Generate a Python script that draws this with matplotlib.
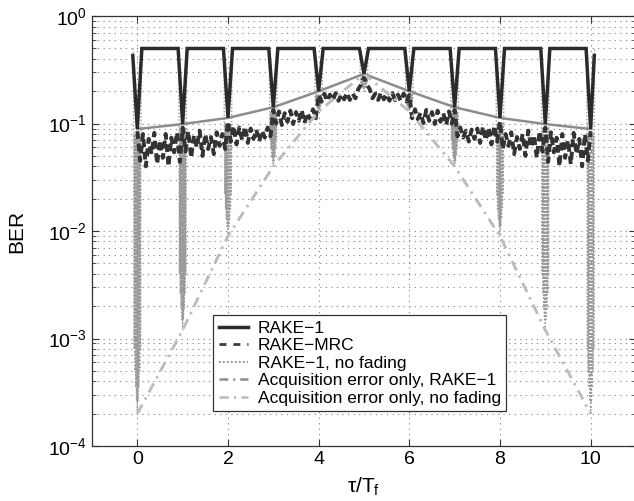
import numpy as np
import matplotlib
matplotlib.use('Agg')
import matplotlib.pyplot as plt
from matplotlib.lines import Line2D
from matplotlib.ticker import LogLocator, NullFormatter

plt.rcParams['font.family'] = ['Liberation Sans', 'DejaVu Sans']
plt.rcParams['mathtext.fontset'] = 'custom'
plt.rcParams['mathtext.rm'] = 'Liberation Sans'
plt.rcParams['mathtext.it'] = 'Liberation Sans:italic'

# Timing offsets in frames (tau/Tf)
offsets = np.arange(0, 11)

# Acquisition error only, at each frame offset
acq_rake1 = [0.089, 0.099, 0.113, 0.142, 0.200, 0.290, 0.200, 0.142, 0.113, 0.099, 0.089]
acq_nofade = [2.0e-4, 1.2e-3, 9.0e-3, 0.040, 0.130, 0.290, 0.130, 0.040, 9.0e-3, 1.2e-3, 2.0e-4]

# RAKE-1 BER: 0.5 when misaligned, dips to the acquisition error at each frame
rake1_tau = [-0.1, 0, 0.1, 0.9, 1, 1.1, 1.9, 2, 2.1, 2.9, 3, 3.1, 3.9, 4, 4.1,
             4.9, 5, 5.1, 5.9, 6, 6.1, 6.9, 7, 7.1, 7.9, 8, 8.1, 8.9, 9, 9.1,
             9.9, 10, 10.08]
rake1_ber = [0.43, 0.089, 0.5, 0.5, 0.099, 0.5, 0.5, 0.113, 0.5, 0.5, 0.142, 0.5,
             0.5, 0.200, 0.5, 0.5, 0.290, 0.5, 0.5, 0.200, 0.5, 0.5, 0.142, 0.5,
             0.5, 0.113, 0.5, 0.5, 0.099, 0.5, 0.5, 0.089, 0.43]

# RAKE-MRC BER, sampled every 1/16 frame from 0 to 10
mrc_ber = [
    0.085, 0.045, 0.080, 0.040, 0.072, 0.052, 0.082, 0.042, 0.070, 0.048, 0.080, 0.040, 0.074, 0.054, 0.083, 0.044,
    0.092, 0.055, 0.085, 0.048, 0.078, 0.060, 0.086, 0.050, 0.080, 0.058, 0.075, 0.052, 0.083, 0.062, 0.080, 0.058,
    0.105, 0.068, 0.095, 0.064, 0.092, 0.070, 0.094, 0.066, 0.090, 0.072, 0.088, 0.068, 0.086, 0.074, 0.092, 0.076,
    0.135, 0.100, 0.130, 0.097, 0.125, 0.104, 0.132, 0.099, 0.128, 0.106, 0.134, 0.101, 0.126, 0.110, 0.136, 0.112,
    0.185, 0.160, 0.190, 0.162, 0.186, 0.165, 0.192, 0.163, 0.188, 0.168, 0.194, 0.166, 0.190, 0.172, 0.210, 0.230,
    0.270, 0.230, 0.210, 0.172, 0.190, 0.166, 0.194, 0.168, 0.188, 0.163, 0.192, 0.165, 0.186, 0.162, 0.190, 0.160,
    0.185, 0.112, 0.136, 0.110, 0.126, 0.101, 0.134, 0.106, 0.128, 0.099, 0.132, 0.104, 0.125, 0.097, 0.130, 0.100,
    0.135, 0.076, 0.092, 0.074, 0.086, 0.068, 0.088, 0.072, 0.090, 0.066, 0.094, 0.070, 0.092, 0.064, 0.095, 0.068,
    0.105, 0.058, 0.080, 0.062, 0.083, 0.052, 0.075, 0.058, 0.080, 0.050, 0.086, 0.060, 0.078, 0.048, 0.085, 0.055,
    0.092, 0.044, 0.083, 0.054, 0.074, 0.040, 0.080, 0.048, 0.070, 0.042, 0.082, 0.052, 0.072, 0.040, 0.080, 0.045,
    0.085,
]
mrc_tau = np.linspace(0, 10, len(mrc_ber))

# RAKE-1 without fading: 0.5 between frames; near each frame it swings
# between an upper value and a falling set of lows
nofade_plateau = 0.5
nofade_tops = [0.080, 0.090, 0.100, 0.125, 0.185, 0.270, 0.185, 0.125, 0.100, 0.090, 0.080]
nofade_lows = [
    [8e-4, 5e-4, 3.5e-4, 2.6e-4, 2e-4, 2.6e-4, 3.5e-4, 5e-4, 8e-4],
    [4e-3, 2.6e-3, 1.9e-3, 1.5e-3, 1.2e-3, 1.5e-3, 1.9e-3, 2.6e-3, 4e-3],
    [0.022, 0.016, 0.013, 0.011, 9e-3, 0.011, 0.013, 0.016, 0.022],
    [0.07, 0.058, 0.05, 0.045, 0.04, 0.045, 0.05, 0.058, 0.07],
    [0.16, 0.15, 0.14, 0.135, 0.13, 0.135, 0.14, 0.15, 0.16],
    [0.24, 0.23, 0.22, 0.21, 0.20, 0.21, 0.22, 0.23, 0.24],
    [0.16, 0.15, 0.14, 0.135, 0.13, 0.135, 0.14, 0.15, 0.16],
    [0.07, 0.058, 0.05, 0.045, 0.04, 0.045, 0.05, 0.058, 0.07],
    [0.022, 0.016, 0.013, 0.011, 9e-3, 0.011, 0.013, 0.016, 0.022],
    [4e-3, 2.6e-3, 1.9e-3, 1.5e-3, 1.2e-3, 1.5e-3, 1.9e-3, 2.6e-3, 4e-3],
    [8e-4, 5e-4, 3.5e-4, 2.6e-4, 2e-4, 2.6e-4, 3.5e-4, 5e-4, 8e-4],
]
window = np.linspace(-0.08, 0.08, 19)
nofade_tau, nofade_ber = [], []
for k, (top, lows) in enumerate(zip(nofade_tops, nofade_lows)):
    vals = [nofade_plateau]
    for lo in lows:
        vals += [top, lo]
    vals += [top, nofade_plateau]
    nofade_tau += [k - 0.09] + list(k + window) + [k + 0.09]
    nofade_ber += vals

labels = ['RAKE\u22121', 'RAKE\u2212MRC', 'RAKE\u22121, no fading',
          'Acquisition error only, RAKE\u22121', 'Acquisition error only, no fading']

fig = plt.figure(figsize=(6.34, 5.01), dpi=100)
ax = fig.add_axes([0.1451, 0.1098, 0.858, 0.858])

ax.semilogy(nofade_tau, nofade_ber, color='#9a9a9a', lw=1.0, dashes=(1, 1.5), zorder=2)
ax.semilogy(mrc_tau, mrc_ber, color='#333333', lw=2.8, dashes=(2, 1.2), zorder=3)
ax.semilogy(offsets, acq_rake1, color='#8c8c8c', lw=1.8, zorder=4)
ax.semilogy(offsets, acq_nofade, color='#bcbcbc', lw=2.1, dashes=(3.5, 2, 0.8, 2), zorder=4)
ax.semilogy(rake1_tau, rake1_ber, color='#2b2b2b', lw=2.5, solid_joinstyle='miter', zorder=5)

ax.set_xlim(-1, 11)
ax.set_ylim(1e-4, 1)
ax.set_xticks([0, 2, 4, 6, 8, 10])
ax.yaxis.set_major_locator(LogLocator(base=10, numticks=10))
ax.yaxis.set_minor_locator(LogLocator(base=10, subs=np.arange(2, 10), numticks=20))
ax.yaxis.set_minor_formatter(NullFormatter())

ax.grid(True, which='major', axis='both', color='#808080', lw=0.8, dashes=(1, 4))
ax.grid(True, which='minor', axis='y', color='#808080', lw=0.8, dashes=(1, 4))
ax.set_axisbelow(True)

ax.tick_params(which='both', direction='in', top=True, right=True, labelsize=14,
               color='#333333')
ax.tick_params(which='major', length=5)
ax.tick_params(which='minor', length=3)
for s in ax.spines.values():
    s.set_color('#333333')
    s.set_linewidth(0.9)

ax.set_xlabel('\u03c4/T$_\\mathregular{f}$', fontsize=15, labelpad=6)
ax.set_ylabel('BER', fontsize=15, labelpad=16)

handles = [
    Line2D([], [], color='#2b2b2b', lw=2.5),
    Line2D([], [], color='#3c3c3c', lw=2.0, dashes=(2.5, 2.5)),
    Line2D([], [], color='#8a8a8a', lw=1.3, dashes=(1, 1.2)),
    Line2D([], [], color='#8c8c8c', lw=1.8, dashes=(3.5, 2, 0.8, 2)),
    Line2D([], [], color='#bcbcbc', lw=1.9, dashes=(3.5, 2, 0.8, 2)),
]
leg = ax.legend(handles, labels, loc='lower left', bbox_to_anchor=(0.223, 0.081),
                borderaxespad=0, fontsize=12.5, handlelength=1.7, handletextpad=0.55,
                labelspacing=0.14, borderpad=0.3, fancybox=False, framealpha=1,
                edgecolor='#333333')
leg.get_frame().set_linewidth(0.9)
leg.set_zorder(10)

fig.savefig('out.png', dpi=100)
